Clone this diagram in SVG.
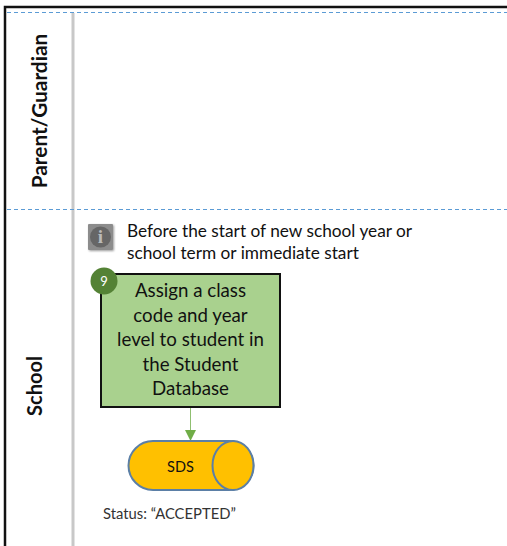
<svg xmlns="http://www.w3.org/2000/svg" width="507" height="546" viewBox="0 0 507 546">
<style>
text{font-family:Lato,"Liberation Sans",sans-serif;fill:#111}
.lane{font-size:20px;font-weight:700;text-anchor:middle}
.b{font-size:18.7px;text-anchor:middle}
.n{font-size:17.25px}
.dash{stroke:#5b9bd5;stroke-width:1;stroke-dasharray:4 3;fill:none}
</style>
<defs>
<marker id="arr" markerUnits="userSpaceOnUse" markerWidth="12" markerHeight="11" refX="11" refY="5.5" orient="auto"><path d="M0 0L11 5.5L0 11Z" fill="#70ad47"/></marker>
<filter id="sh" x="-20%" y="-20%" width="150%" height="150%"><feDropShadow dx="1" dy="1" stdDeviation="1" flood-color="#000" flood-opacity=".4"/></filter>
</defs>
<rect width="507" height="546" fill="#fff"/>
<g id="frame">
<path d="M5 546V7H507" fill="none" stroke="#111" stroke-width="2.500"/>
<line x1="73" y1="13" x2="73" y2="546" stroke="#c8c8c8" stroke-width="3"/>
<line class="dash" x1="7" y1="12.500" x2="507" y2="12.500"/>
<line class="dash" x1="7" y1="209.500" x2="507" y2="209.500"/>
</g>
<g id="lane-parent"><text class="lane" style="font-size:20.800px" transform="translate(47,111) rotate(-90)">Parent/Guardian</text></g>
<g id="lane-school"><text class="lane" transform="translate(42,386) rotate(-90)">School</text></g>
<g id="note">
<rect x="88" y="224" width="25" height="26" rx="1" fill="#8c8c8c" filter="url(#sh)"/>
<circle cx="100.500" cy="237" r="10.500" fill="#666"/>
<text x="100.500" y="243" style="font-family:'Liberation Serif',serif;font-size:19px;font-weight:700;fill:#bbb;text-anchor:middle">i</text>
<text class="n" x="127" y="237">Before the start of new school year or</text>
<text class="n" x="127" y="259">school term or immediate start</text>
</g>
<g id="connectors"><line x1="190.500" y1="407" x2="190.500" y2="441" stroke="#8fbf70" stroke-width="1" marker-end="url(#arr)"/></g>
<g id="node-9">
<rect x="101" y="274" width="179" height="133" fill="#a9d18e" stroke="#111" stroke-width="2"/>
<text class="b" x="190.500" y="297">Assign a class</text>
<text class="b" x="190.500" y="322">code and year</text>
<text class="b" x="190.500" y="346">level to student in</text>
<text class="b" x="190.500" y="371">the Student</text>
<text class="b" x="190.500" y="395">Database</text>
<circle cx="104" cy="281" r="13.500" fill="#548235"/>
<text x="104" y="286" style="font-size:13px;fill:#fff;text-anchor:middle">9</text>
</g>
<g id="node-sds">
<path d="M153 441H229A24.500 24.500 0 0 1 229 490H153A24.500 24.500 0 0 1 153 441Z" fill="#ffc000" stroke="#5b7fa6" stroke-width="2"/>
<ellipse cx="233" cy="465.500" rx="20.500" ry="24.500" fill="#ffc000" stroke="#5b7fa6" stroke-width="2"/>
<text x="180.500" y="472" style="font-size:14.500px;text-anchor:middle">SDS</text>
</g>
<g id="status"><text x="103" y="519" style="font-size:14.800px;fill:#333">Status: “ACCEPTED”</text></g>
</svg>
